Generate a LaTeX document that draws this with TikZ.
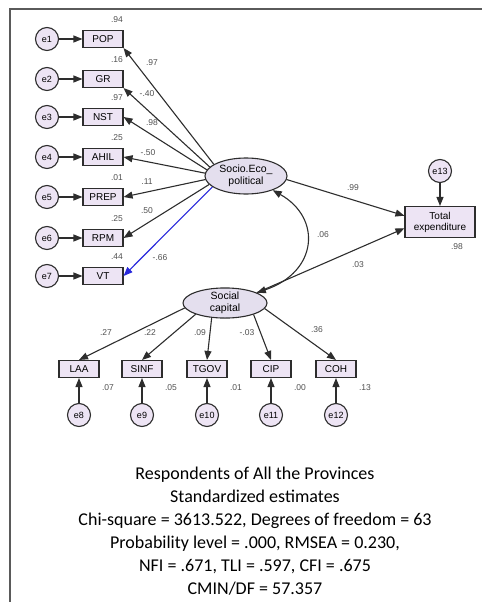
\documentclass[tikz,border=0pt]{standalone}
\usepackage{fontspec}
\setmainfont{Liberation Sans}
\newfontfamily\calibri{Carlito}
\usetikzlibrary{arrows.meta,shapes.geometric}
\definecolor{boxfill}{RGB}{237,228,244}
\definecolor{latfill}{RGB}{228,223,238}
\definecolor{edgegray}{RGB}{45,45,45}
\definecolor{numgray}{RGB}{80,80,80}
\definecolor{framegray}{RGB}{90,90,90}
\definecolor{vtblue}{RGB}{40,40,220}

\begin{document}
\begin{tikzpicture}[
      x=1pt,y=-1pt,
      obs/.style ={draw=edgegray,line width=1.1pt,fill=boxfill,minimum width=40pt,
                   minimum height=17pt,inner sep=1pt,font=\fontsize{10}{10}\selectfont},
      err/.style ={circle,draw=edgegray,line width=1.1pt,fill=boxfill,minimum size=23pt,
                   inner sep=0pt,font=\fontsize{9}{9}\selectfont},
      lat/.style ={ellipse,draw=edgegray,line width=1.1pt,fill=latfill,inner sep=0pt,
                   align=center,font=\fontsize{10.5}{11.5}\selectfont},
      num/.style ={font=\fontsize{8.5}{8.5}\selectfont,text=numgray,inner sep=0pt},
      arr/.style ={-{Triangle[length=9pt,width=7pt]},line width=1.1pt,draw=#1},
      arr/.default=edgegray]
    \useasboundingbox (0,0) rectangle (482,602);
    \draw[framegray,line width=1.6pt] (10,602) -- (10,9) -- (482,9);
    % latent variables and outcome
    \node[lat,minimum width=82pt,minimum height=36pt] (soc) at (246,176) {Socio.Eco\_\\political};
    \node[lat,minimum width=84pt,minimum height=28pt] (sc) at (225,303) {Social\\capital};
    \node[obs,minimum width=70pt,minimum height=31pt,align=center,
          font=\fontsize{10}{11}\selectfont] (te) at (440,222) {Total\\expenditure};
    \node[err] (e13) at (440,171) {e13};
    \draw[arr] (e13) -- (te);
    \node[num] at (457,247) {.98};
    % socio-economic indicators
    \foreach \n/\lab/\y/\rsq/\ld/\lx/\ly/\from/\to/\col in {
        1/POP/39/.94/.97/152/63/160/south east/edgegray,
        2/GR/79/.16/-.40/147/94/166/south east/edgegray,
        3/NST/117/.97/.98/152/123/171/east/edgegray,
        4/AHIL/157/.25/-.50/148/153/176/east/edgegray,
        5/PREP/197/.01/.11/147/182/185/east/edgegray,
        6/RPM/238/.25/.50/147/211/193/east/edgegray,
        7/VT/276/.44/-.66/160/258/198/east/vtblue}{
      \node[err] (e\n) at (47,\y) {e\n};
      \node[obs] (\lab) at (103,\y) {\lab};
      \draw[arr] (e\n) -- (\lab);
      \draw[arr=\col] (soc.\from) -- (\lab.\to);
      \node[num] at (117,\y-19) {\rsq};
      \node[num] at (\lx,\ly) {\ld};
    }
    % social capital indicators
    \foreach \n/\lab/\x/\ld/\lx/\ly/\rsq/\from in {
        8/LAA/79/.27/106/333/.07/187,
        9/SINF/142/.22/150/333/.05/201,
        10/TGOV/207/.09/200/333/.01/228,
        11/CIP/271/-.03/247/333/.00/-22,
        12/COH/336/.36/317/330/.13/-8}{
      \node[obs] (\lab) at (\x,369) {\lab};
      \node[err] (e\n) at (\x,415) {e\n};
      \draw[arr] (e\n) -- (\lab);
      \draw[arr] (sc.\from) -- (\lab.north);
      \node[num] at (\lx,\ly) {\ld};
      \node[num] at (\x+29,388) {\rsq};
    }
    % structural paths
    \draw[arr] (soc.-5) -- (te.170);
    \draw[arr] (sc.18) -- (te.190);
    \draw[{Triangle[length=9pt,width=7pt]}-{Triangle[length=9pt,width=7pt]},
          line width=1.1pt,edgegray] (soc.-28) .. controls (322,218) and (318,272) .. (sc.18);
    \node[num] at (353,188) {.99};
    \node[num] at (323,235) {.06};
    \node[num] at (358,265) {.03};
    % fit statistics
    \node[align=center,font=\calibri\fontsize{18}{23}\selectfont] (fit) at (255,531)
      {Respondents of All the Provinces\\
       Standardized estimates\\
       Chi-square = 3613.522, Degrees of freedom = 63\\
       Probability level = .000, RMSEA = 0.230,\\
       NFI = .671, TLI = .597, CFI = .675\\
       CMIN/DF = 57.357};
\end{tikzpicture}
\end{document}
